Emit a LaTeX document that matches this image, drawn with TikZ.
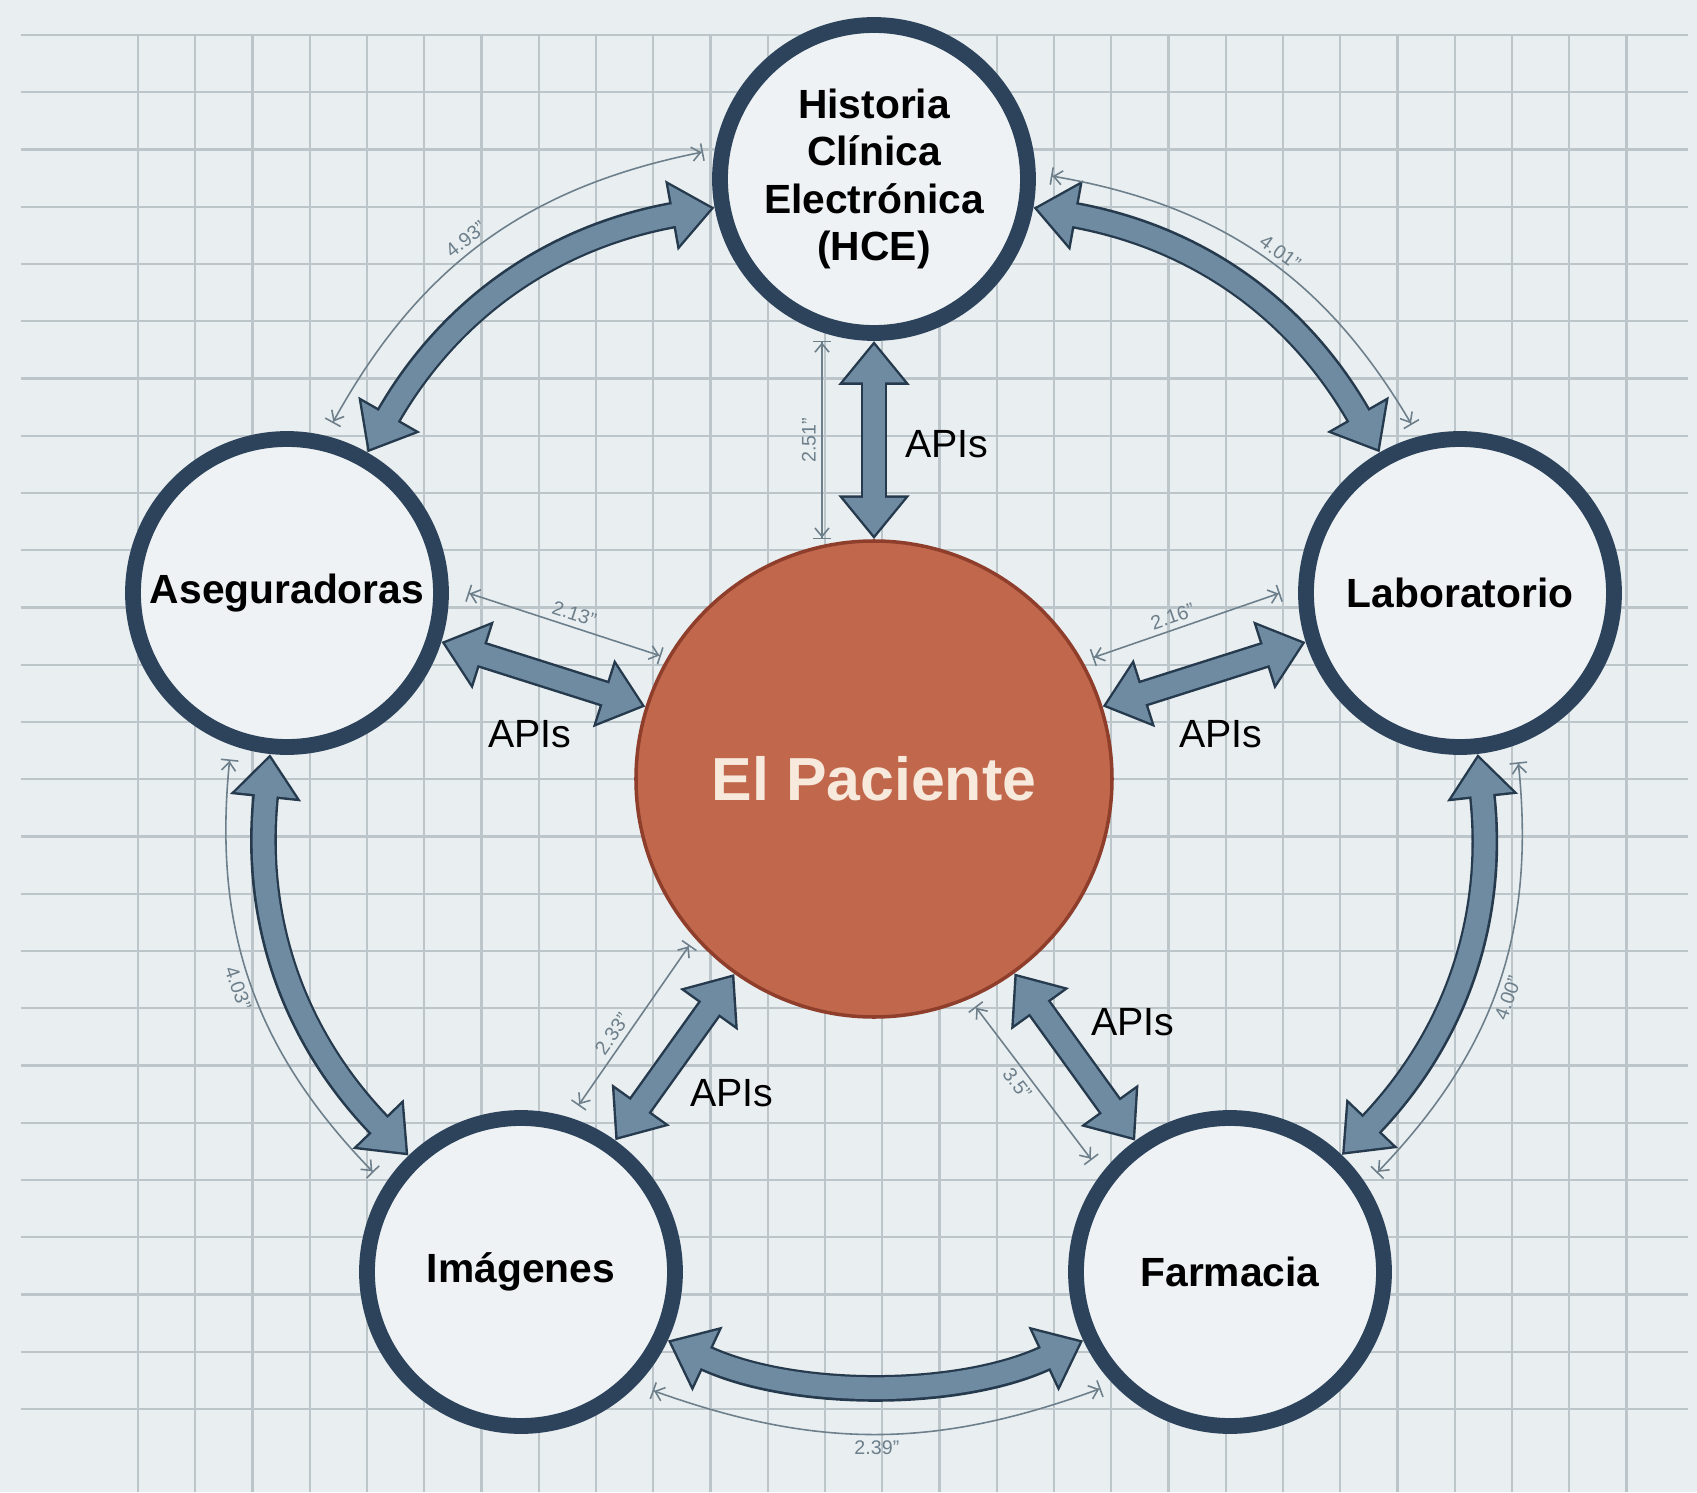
\documentclass[tikz,border=0pt]{standalone}
\usepackage{fontspec}
\setmainfont{Liberation Sans}
\usepackage{tikz}
\usetikzlibrary{arrows.meta,calc}

\definecolor{paper}{HTML}{E9EEF0}
\definecolor{gridgray}{HTML}{BCC5C9}
\definecolor{ringblue}{HTML}{2C435B}
\definecolor{hubfill}{HTML}{EEF2F4}
\definecolor{linkdark}{HTML}{263A4E}
\definecolor{linkfill}{HTML}{6F8BA2}
\definecolor{dimgray}{HTML}{6D7F8B}
\definecolor{patient}{HTML}{C1684C}
\definecolor{patientline}{HTML}{8E3E2B}
\definecolor{patienttext}{HTML}{F7E9DC}

\tikzset{
	gridline/.style={draw=gridgray,line width=0.6pt},
	hub/.style={circle,draw=ringblue,line width=4.5pt,fill=hubfill,minimum size=3.08cm,inner sep=0pt,
		align=center,font=\fontsize{11.6}{13.5}\selectfont\bfseries},
	patientnode/.style={circle,draw=patientline,line width=1pt,fill=patient,minimum size=4.76cm,
		text=patienttext,font=\fontsize{17.3}{20}\selectfont\bfseries},
	api/.style={font=\fontsize{11.2}{13}\selectfont},
	link/.style={draw=linkdark,line width=7.6pt,
		arrows={Triangle[width=19.5pt,length=12.5pt]-Triangle[width=19.5pt,length=12.5pt]},
		postaction={draw=linkfill,line width=6.2pt,shorten <=1.1pt,shorten >=1.1pt,
			arrows={Triangle[width=16.7pt,length=10.7pt]-Triangle[width=16.7pt,length=10.7pt]}}},
	dim/.style={draw=dimgray,line width=0.45pt,
		arrows={Bar[width=5pt]Straight Barb[length=2.4pt,width=4pt]-Straight Barb[length=2.4pt,width=4pt]Bar[width=5pt]}},
	dimlabel/.style={font=\fontsize{5.6}{6}\selectfont,text=dimgray,sloped,inner sep=1.5pt}
}

\begin{document}
\begin{tikzpicture}
	
	% Paper and grid
	\useasboundingbox (-8.74,-7.13) rectangle (8.23,7.79);
	\fill[paper] (-8.74,-7.13) rectangle (8.23,7.79);
	\foreach \k in {0,...,24}
		\draw[gridline] (-8.53,{7.44-0.5725*\k}) -- (8.14,{7.44-0.5725*\k});
	\foreach \k in {0,...,26}
		\draw[gridline] ({-7.36+0.5725*\k},7.44) -- ({-7.36+0.5725*\k},-7.13);
	
	% Draw nodes
	\node[patientnode] (Pac) at (0,0) {El Paciente};
	\node[hub] (HCE) at (0,6.0) {Historia\\Clínica\\Electrónica\\(HCE)};
	\node[hub] (Aseg) at (-5.87,1.86) {Aseguradoras};
	\node[hub] (Lab) at (5.86,1.86) {Laboratorio};
	\node[hub] (Img) at (-3.53,-4.93) {Imágenes};
	\node[hub] (Farm) at (3.56,-4.93) {Farmacia};
	
	% Draw arrows, APIs to the patient
	\draw[link] (HCE) -- (Pac);
	\draw[link] (Aseg) -- (Pac);
	\draw[link] (Lab) -- (Pac);
	\draw[link] (Img) -- (Pac);
	\draw[link] (Farm) -- (Pac);
	\node[api] (apiHCE) at (0.73,3.35) {APIs};
	\node[api] (apiAseg) at (-3.44,0.45) {APIs};
	\node[api] (apiLab) at (3.47,0.45) {APIs};
	\node[api] (apiImg) at (-1.42,-3.14) {APIs};
	\node[api] (apiFarm) at (2.59,-2.43) {APIs};
	
	% Draw arrows, round the ring
	\draw[link] (Aseg) to[bend left=25] (HCE);
	\draw[link] (HCE) to[bend left=25] (Lab);
	\draw[link] (Aseg) to[bend right=25] (Img);
	\draw[link] (Lab) to[bend left=25] (Farm);
	\draw[link] (Img) to[bend right=25,looseness=0.85] (Farm);
	
	% Dimension lines
	\coordinate (dimAH1) at ($(Aseg)+(75:1.76)$);
	\coordinate (dimAH2) at ($(HCE)+(171:1.73)$);
	\coordinate (dimHL1) at ($(HCE)+(1:1.77)$);
	\coordinate (dimHL2) at ($(Lab)+(106:1.75)$);
	\coordinate (dimHP1) at ($(Pac.north)+(-0.52,0)$);
	\coordinate (dimHP2) at ($(HCE.south)+(-0.52,0)$);
	\coordinate (dimAP1) at ($(Aseg)+(0:1.81)$);
	\coordinate (dimAP2) at ($(Pac)+(150:2.46)$);
	\coordinate (dimLP1) at ($(Pac)+(29:2.50)$);
	\coordinate (dimLP2) at ($(Lab)+(180:1.80)$);
	\coordinate (dimIP1) at ($(Img)+(71:1.76)$);
	\coordinate (dimIP2) at ($(Pac)+(222:2.48)$);
	\coordinate (dimFP1) at ($(Pac)+(-66:2.49)$);
	\coordinate (dimFP2) at ($(Farm)+(141:1.78)$);
	\coordinate (dimAI1) at ($(Aseg)+(251:1.76)$);
	\coordinate (dimAI2) at ($(Img)+(146:1.78)$);
	\coordinate (dimFL1) at ($(Farm)+(34:1.77)$);
	\coordinate (dimFL2) at ($(Lab)+(289:1.79)$);
	\coordinate (dimIF1) at ($(Img)+(-42:1.77)$);
	\coordinate (dimIF2) at ($(Farm)+(222:1.74)$);
	
	\draw[dim] (dimAH1) to[bend left=25] node[dimlabel,above,pos=0.47] {4.93"} (dimAH2);
	\draw[dim] (dimHL1) to[bend left=25] node[dimlabel,above,pos=0.53] {4.01"} (dimHL2);
	\draw[dim] (dimHP1) -- node[dimlabel,above] {2.51"} (dimHP2);
	\draw[dim] (dimAP1) -- node[dimlabel,above,pos=0.53] {2.13"} (dimAP2);
	\draw[dim] (dimLP1) -- node[dimlabel,above,pos=0.45] {2.16"} (dimLP2);
	\draw[dim] (dimIP1) -- node[dimlabel,above,pos=0.4] {2.33"} (dimIP2);
	\draw[dim] (dimFP1) -- node[dimlabel,below,pos=0.45] {3.5"} (dimFP2);
	\draw[dim] (dimAI1) to[bend right=25] node[dimlabel,below,pos=0.5] {4.03"} (dimAI2);
	\draw[dim] (dimFL1) to[bend right=25] node[dimlabel,below,pos=0.48] {4.00"} (dimFL2);
	\draw[dim] (dimIF1) to[bend right=20] node[dimlabel,below] {2.39"} (dimIF2);
	
\end{tikzpicture}
\end{document}
